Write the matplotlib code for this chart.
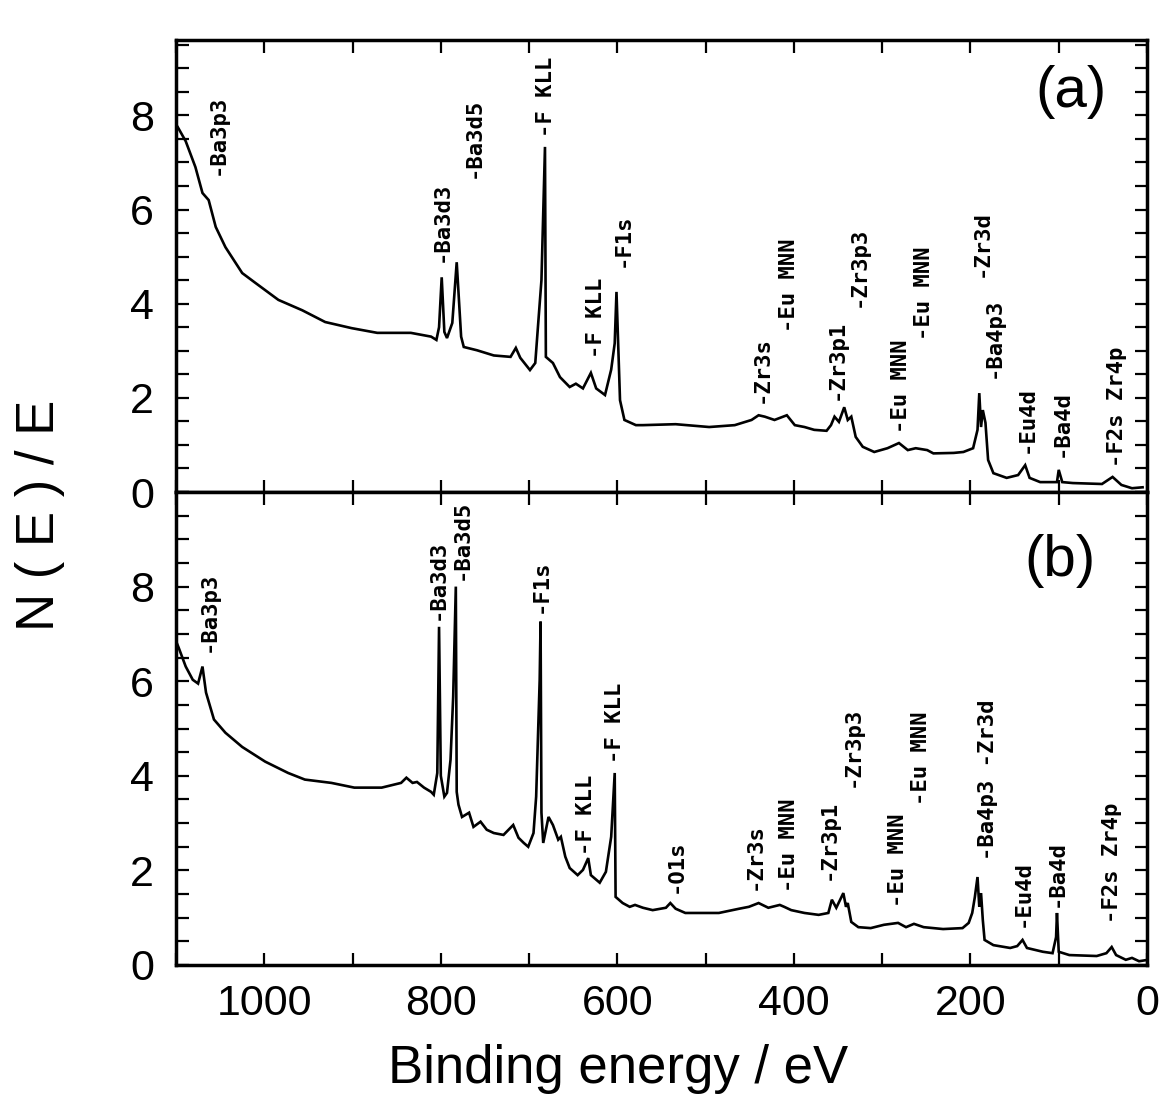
import matplotlib
matplotlib.use("Agg")
import matplotlib.pyplot as plt
from matplotlib.ticker import MultipleLocator, FixedLocator

# ---------------- data: panel (a) ----------------
energy_a = [1098, 1089, 1078, 1070, 1063, 1055, 1044, 1025, 1010, 984, 957, 931, 901, 872,
            834, 811, 805, 802, 799, 796, 793, 787, 782, 777, 774, 759, 740, 721, 715, 710,
            699, 693, 690, 686, 682, 681, 673, 665, 654, 647, 639, 630, 624, 614, 607, 603,
            601, 597, 592, 579, 571, 534, 496, 467, 448, 440, 433, 422, 408, 399, 388, 377,
            363, 358, 354, 349, 343, 339, 335, 330, 322, 309, 294, 281, 271, 262, 249, 242,
            219, 208, 197, 192, 190, 188, 186, 183, 180, 174, 159, 146, 138, 133, 121, 102,
            100, 96, 84, 51, 39, 29, 17, 5]
signal_a = [7.75, 7.45, 6.9, 6.35, 6.2, 5.63, 5.2, 4.65, 4.44, 4.08, 3.86, 3.61, 3.48, 3.38,
            3.38, 3.3, 3.23, 3.5, 4.56, 3.4, 3.27, 3.59, 4.88, 3.3, 3.08, 3.01, 2.9, 2.87, 3.06, 2.85,
            2.59, 2.74, 3.5, 4.5, 7.33, 2.87, 2.74, 2.44, 2.23, 2.3, 2.2, 2.53, 2.2, 2.06, 2.6, 3.16,
            4.25, 1.95, 1.53, 1.42, 1.42, 1.44, 1.38, 1.42, 1.53, 1.63, 1.6, 1.53, 1.63, 1.42, 1.38, 1.32,
            1.3, 1.42, 1.6, 1.49, 1.8, 1.53, 1.6, 1.17, 0.96, 0.85, 0.93, 1.04, 0.89, 0.93, 0.89, 0.82,
            0.83, 0.85, 0.93, 1.32, 2.1, 1.38, 1.74, 1.47, 0.68, 0.4, 0.3, 0.36, 0.57, 0.3, 0.21, 0.21,
            0.47, 0.21, 0.19, 0.17, 0.32, 0.15, 0.08, 0.1]

# ---------------- data: panel (b) ----------------
energy_b = [1100, 1097, 1089, 1081, 1075, 1070, 1066, 1057, 1044, 1025, 999, 973, 954, 924, 898,
            867, 845, 839, 832, 827, 819, 811, 808, 804, 802, 800, 796, 793, 789, 786, 783,
            782, 780, 776, 768, 763, 755, 748, 740, 729, 718, 712, 706, 701, 695, 692, 688,
            687, 686, 684, 678, 673, 667, 664, 659, 654, 645, 639, 633, 630, 620, 613, 607,
            603, 602, 594, 586, 580, 571, 560, 545, 540, 534, 523, 504, 485, 462, 451, 440,
            429, 416, 411, 403, 388, 372, 361, 357, 352, 344, 341, 339, 335, 327, 313, 298,
            282, 273, 264, 253, 231, 209, 202, 198, 195, 192, 190, 188, 186, 184, 174, 155,
            147, 141, 136, 118, 107, 103, 102, 100, 88, 57, 46, 40, 35, 24, 17, 9, 2]
signal_b = [6.85, 6.71, 6.31, 6.03, 5.95, 6.31, 5.76, 5.19, 4.91, 4.61, 4.3, 4.06, 3.92, 3.85, 3.75,
            3.75, 3.85, 3.96, 3.85, 3.87, 3.75, 3.66, 3.6, 4.06, 7.15, 4.0, 3.56, 3.64, 4.34, 5.67, 8.0,
            3.66, 3.39, 3.13, 3.22, 2.92, 3.03, 2.86, 2.79, 2.75, 2.96, 2.69, 2.58, 2.5, 2.79, 3.56, 6.03,
            7.26, 3.22, 2.58, 3.13, 2.96, 2.65, 2.71, 2.29, 2.05, 1.9, 2.01, 2.26, 1.9, 1.74, 1.97, 2.71,
            4.06, 1.44, 1.31, 1.23, 1.27, 1.21, 1.16, 1.21, 1.31, 1.19, 1.1, 1.1, 1.1, 1.19, 1.23, 1.31,
            1.21, 1.27, 1.23, 1.16, 1.1, 1.06, 1.1, 1.38, 1.21, 1.52, 1.23, 1.31, 0.91, 0.8, 0.78, 0.85,
            0.89, 0.8, 0.87, 0.8, 0.76, 0.78, 0.89, 1.1, 1.44, 1.86, 1.23, 1.52, 0.95, 0.53, 0.42, 0.36,
            0.4, 0.53, 0.36, 0.28, 0.25, 0.59, 1.1, 0.28, 0.21, 0.19, 0.25, 0.38, 0.21, 0.11, 0.15, 0.08, 0.1]

# ---------------- peak annotations ----------------
labels_a = ["-Ba3p3", "-Ba3d3", "-Ba3d5", "-F KLL", "-F KLL", "-F1s", "-Zr3s", "-Eu MNN",
            "-Zr3p1", "-Zr3p3", "-Eu MNN", "-Eu MNN", "-Zr3d", "-Ba4p3", "-Eu4d", "-Ba4d",
            "-F2s Zr4p"]
labels_a_x = [1053, 799, 763, 681, 624, 594, 436, 406, 352, 326, 279, 253, 187, 174, 136, 97, 34]
labels_a_y = [6.73, 4.88, 6.67, 7.54, 2.84, 4.78, 1.89, 3.4, 1.95, 3.93, 1.25, 3.23, 4.57, 2.42,
              0.83, 0.75, 0.53]

labels_b = ["-Ba3p3", "-Ba3d3", "-Ba3d5", "-F1s", "-F KLL", "-F KLL", "-O1s", "-Zr3s",
            "-Eu MNN", "-Zr3p1", "-Zr3p3", "-Eu MNN", "-Eu MNN", "-Ba4p3 -Zr3d", "-Eu4d",
            "-Ba4d", "-F2s Zr4p"]
labels_b_x = [1063, 804, 776, 687, 636, 603, 534, 444, 406, 361, 333, 282, 256, 180, 141, 102, 40]
labels_b_y = [6.62, 7.3, 8.15, 7.45, 2.33, 4.27, 1.52, 1.59, 1.55, 1.8, 3.77, 1.23, 3.39, 2.22,
              0.8, 1.23, 0.89]

panel_tags = ["(a)", "(b)"]
x_tick_values = [1000, 800, 600, 400, 200, 0]
y_tick_values = [0, 2, 4, 6, 8]
x_label = "Binding energy / eV"
y_label = "N ( E ) / E"

# ---------------- figure ----------------
plt.rcParams['font.family'] = ['Liberation Sans', 'DejaVu Sans']
fig = plt.figure(figsize=(11.62, 11.0), dpi=100)
W, H = 1162.0, 1100.0
left, right = 176 / W, 1147 / W
ax_a = fig.add_axes([left, 1 - 492 / H, right - left, (492 - 40) / H])
ax_b = fig.add_axes([left, 1 - 965 / H, right - left, (965 - 492) / H], sharex=ax_a)

mono = ['DejaVu Sans Mono']
for ax, e, s, labs, lx, ly, tag, ytop, tagx, tagy in [
        (ax_a, energy_a, signal_a, labels_a, labels_a_x, labels_a_y, panel_tags[0], 9.6, 0.922, 0.885),
        (ax_b, energy_b, signal_b, labels_b, labels_b_x, labels_b_y, panel_tags[1], 10.0, 0.910, 0.855)]:
    ax.plot(e, s, color='black', lw=1.9, solid_joinstyle='miter')
    ax.set_ylim(0, ytop)
    ax.set_xlim(1100, 0)
    for t, x, y in zip(labs, lx, ly):
        ax.text(x, y, t, rotation=90, ha='center', va='bottom', fontsize=16,
                family=mono, fontweight='bold', color='black')
    ax.text(tagx, tagy, tag, transform=ax.transAxes, ha='center', va='center',
            fontsize=42, color='black')
    for sp in ax.spines.values():
        sp.set_linewidth(2.5)
    ax.yaxis.set_major_locator(FixedLocator(y_tick_values))
    ax.yaxis.set_minor_locator(MultipleLocator(0.5))
    ax.xaxis.set_major_locator(FixedLocator(x_tick_values))
    ax.xaxis.set_minor_locator(MultipleLocator(100))
    ax.tick_params(which='both', direction='in', top=True, right=True, width=1.6)
    ax.tick_params(which='major', length=9)
    ax.tick_params(which='minor', length=9)
    ax.tick_params(axis='y', labelsize=31, pad=16)
    ax.set_yticklabels([str(v) for v in y_tick_values])

ax_a.tick_params(axis='x', labelbottom=False)
ax_b.tick_params(axis='x', labelsize=31, pad=14)
ax_b.set_xticklabels([str(v) for v in x_tick_values])
ax_b.set_xlabel(x_label, fontsize=38)
ax_b.xaxis.set_label_coords(0.455, -0.168)
fig.text(40 / W, 1 - 515 / H, y_label, rotation=90, ha='center', va='center', fontsize=38)

fig.savefig("out.png", dpi=100, facecolor='white')
